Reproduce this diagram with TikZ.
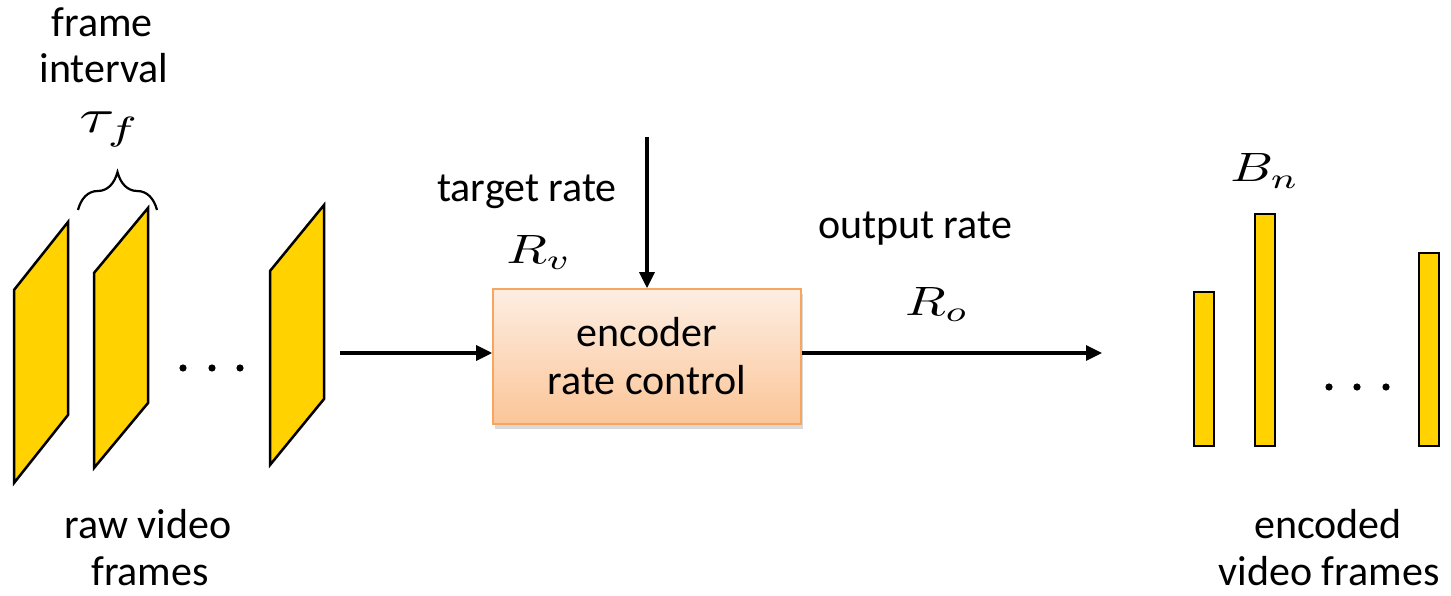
\documentclass[tikz,border=0pt]{standalone}
\usepackage{fontspec}
\setmainfont{Carlito}
\usetikzlibrary{arrows.meta,shadows,decorations.pathreplacing}

\definecolor{framegold}{RGB}{255,210,0}
\definecolor{boxtop}{RGB}{253,238,226}
\definecolor{boxbottom}{RGB}{251,197,152}
\definecolor{boxedge}{RGB}{246,166,96}

% math symbols are set at 10pt and enlarged (slightly wider than tall)
\newcommand{\bigmath}[3]{\scalebox{#1}[#2]{\normalsize$#3$}}

\tikzset{
  lbl/.style={inner sep=0pt, anchor=base, align=center,
    font=\fontsize{42}{47}\selectfont},
  mlbl/.style={inner sep=0pt, anchor=base},
  rawframe/.style={fill=framegold, draw=black, line width=2.5pt, line join=miter},
  bitbar/.style={fill=framegold, draw=black, line width=2.5pt},
  encbox/.style={rectangle, draw=boxedge, line width=1.6pt,
    top color=boxtop, bottom color=boxbottom,
    minimum width=308pt, minimum height=135pt, inner sep=0pt,
    align=center, font=\fontsize{42}{48}\selectfont,
    drop shadow={shadow xshift=2pt, shadow yshift=-5pt, opacity=0.15, fill=black}},
  conn/.style={line width=3.2pt, -{Triangle[length=16pt,width=15pt]}},
  dotmark/.style={fill=black}
}

\begin{document}
\begin{tikzpicture}[x=1pt,y=-1pt]
\useasboundingbox (0,0) rectangle (1451,596);

% raw video frames
\draw[rawframe] (14,290) -- (68,222) -- (68,415) -- (14,483) -- cycle;
\draw[rawframe] (94,273) -- (148,208) -- (148,403) -- (94,468) -- cycle;
\draw[rawframe] (270,271) -- (324,205) -- (324,399) -- (270,465) -- cycle;
\fill[dotmark] (183,368) circle (3.6pt) (212,368) circle (3.6pt) (240,368) circle (3.6pt);

% frame interval brace
\draw[line width=2.2pt, decoration={brace, amplitude=38pt}, decorate]
  (78,210) -- (157,210);
\node[mlbl] (tau) at (110,133) {\bigmath{6.4}{4.8}{\tau_f}};
\node[lbl] (fi1) at (102,37) {frame};
\node[lbl] (fi2) at (104,83) {interval};
\node[lbl] (raw1) at (148,538) {raw video};
\node[lbl] (raw2) at (150,585) {frames};

% encoder
\node[encbox] (enc) at (647,356.5) {encoder\\rate control};
\coordinate (src) at (340,353);
\coordinate (tgt) at (647,137);
\coordinate (dst) at (1102,353);
\draw[conn] (src) -- (src -| enc.west);
\draw[conn] (tgt) -- (enc.north);
\draw[conn] (dst -| enc.east) -- (dst);

\node[lbl] (trate) at (527,202) {target rate};
\node[mlbl] (rv) at (539,263) {\bigmath{5.3}{4.1}{R_v}};
\node[lbl] (orate) at (915,239) {output rate};
\node[mlbl] (ro) at (937,315) {\bigmath{5.3}{4.1}{R_o}};

% encoded frames
\draw[bitbar] (1194,292) rectangle (1214,446);
\draw[bitbar] (1255,214) rectangle (1275,446);
\draw[bitbar] (1419,253) rectangle (1439,446);
\fill[dotmark] (1329,387) circle (3.6pt) (1357,387) circle (3.6pt) (1386,387) circle (3.6pt);
\node[mlbl] (bn) at (1265,182) {\bigmath{5.3}{4.1}{B_n}};
\node[lbl] (enc1) at (1328,538) {encoded};
\node[lbl] (enc2) at (1329,585) {video frames};
\end{tikzpicture}
\end{document}
